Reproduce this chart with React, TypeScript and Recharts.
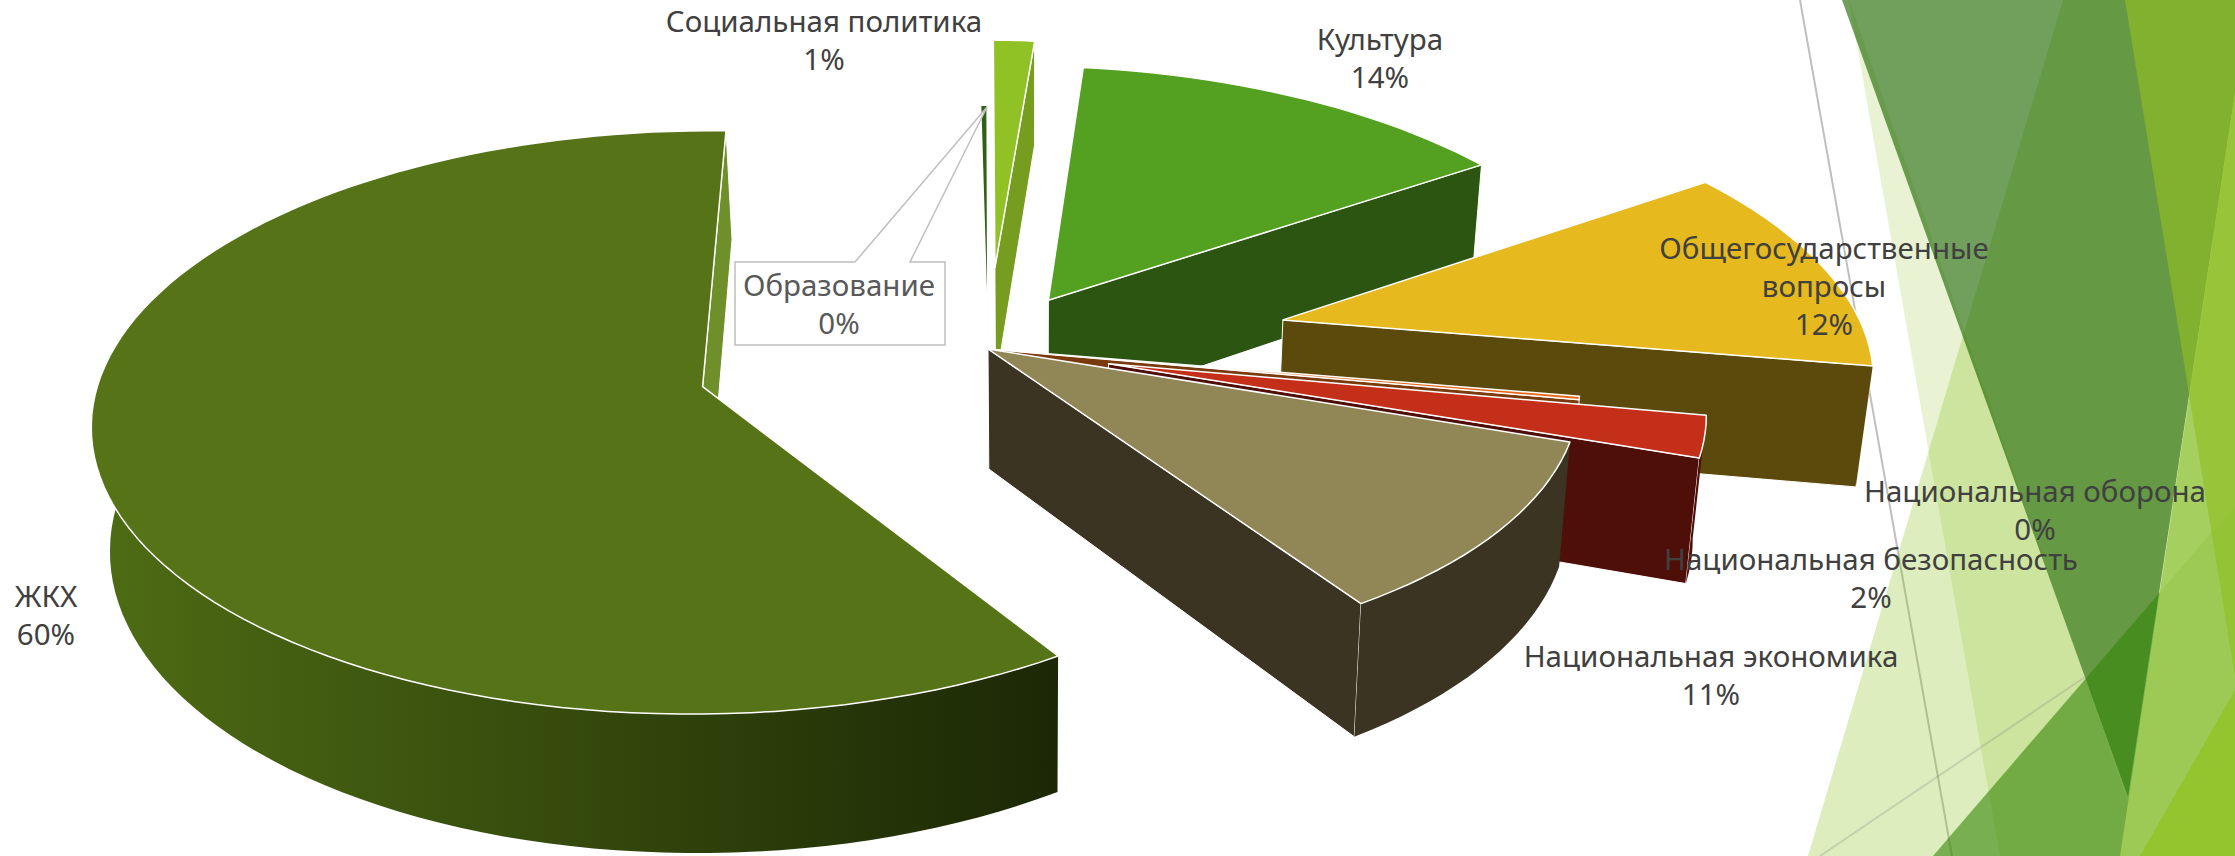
import { Pie, PieChart } from "recharts";

const categories = [
  "Образование",
  "Социальная политика",
  "Культура",
  "Общегосударственные вопросы",
  "Национальная оборона",
  "Национальная безопасность",
  "Национальная экономика",
  "ЖКХ",
];
const shares = [0.2, 1.3, 13.8, 12, 0.2, 2.4, 10.58, 59.52];
const topColors = ["#2f6014", "#90c226", "#54a021", "#e6b91e", "#e76618", "#c42f1a", "#918655", "#567318"];
const wallColors = ["#1c3a0b", "#769d1f", "#2c5512", "#5c4a0c", "#7a3a0c", "#4f0f09", "#3b3423", "url(#wallShade)"];
const explodeBy = [0, 0.31, 0.215, 0.527, 0, 0.21, 0, 0.505];
const radiusBy = [1, 1, 1, 1, 1, 1, 1, 1.02];

const labelLines = [
  ["Образование"],
  ["Социальная политика"],
  ["Культура"],
  ["Общегосударственные", "вопросы"],
  ["Национальная оборона"],
  ["Национальная безопасность"],
  ["Национальная экономика"],
  ["ЖКХ"],
];
const labelAt = [
  [839, 286],
  [824, 22],
  [1380, 40],
  [1824, 249],
  [2035, 492],
  [1871, 560],
  [1711, 657],
  [46, 597],
];

const data = categories.map((name, i) => ({ name, value: shares[i], fill: topColors[i] }));

// view of the tilted disc
const TILT = 0.467;
const PERSP = 0.118;
const THICK = 120;
const VANISH = 200;
const NARROW = 0.02;
const NARROW_X = 1026;

function Slice3D(props: any) {
  const { cx, cy, outerRadius: R, startAngle, endAngle, fill, name } = props;
  const idx = categories.indexOf(name);
  const d = explodeBy[idx];
  const rim = radiusBy[idx];
  const a1 = 90 - startAngle;
  const a2 = 90 - endAngle;
  const rad = (a: number) => (a * Math.PI) / 180;
  const mid = rad((a1 + a2) / 2);

  const top = (r: number, a: number) => {
    const X = d * Math.sin(mid) + r * Math.sin(rad(a));
    const Y = -d * Math.cos(mid) - r * Math.cos(rad(a));
    const f = 1 / (1 - PERSP * Y);
    return [cx - VANISH + (X * R + VANISH) * f, cy + Y * R * TILT * f, f];
  };
  const low = (r: number, a: number) => {
    const [x, y, f] = top(r, a);
    return [x - (x - NARROW_X) * NARROW, y + THICK * f];
  };
  const path = (pts: number[][]) => "M" + pts.map((p) => `${p[0].toFixed(1)},${p[1].toFixed(1)}`).join("L") + "Z";

  const steps = Math.max(2, Math.ceil((a2 - a1) / 2));
  const angles = Array.from({ length: steps + 1 }, (_, i) => a1 + ((a2 - a1) * i) / steps);
  const rimTop = angles.map((a) => top(rim, a));
  // only the part of the outer wall that faces the viewer
  const front = angles.filter((a) => Math.cos(rad(a)) < 0.02);
  const frontTop = front.map((a) => top(rim, a));
  const frontLow = front.map((a) => low(rim, a));

  const wall = wallColors[idx];
  const flat = wall.startsWith("url") ? "#6f8f2a" : wall;
  const edge = { stroke: "#fff", strokeWidth: 1, strokeLinejoin: "round" as const };

  return (
    <g>
      {Math.sin(rad(a1)) < 0 && (
        <path d={path([top(0, a1), top(rim, a1), low(rim, a1), low(0, a1)])} fill={flat} {...edge} />
      )}
      {Math.sin(rad(a2)) > 0 && (
        <path d={path([top(0, a2), top(rim, a2), low(rim, a2), low(0, a2)])} fill={flat} {...edge} />
      )}
      {front.length > 1 && <path d={path([...frontTop, ...frontLow.slice().reverse()])} fill={wall} stroke="none" />}
      <path d={path([top(0, a1), ...rimTop])} fill={fill} stroke="#fff" strokeWidth={1.5} strokeLinejoin="round" />
    </g>
  );
}

function SliceLabel(props: any) {
  const idx = props.index;
  const [x, y] = labelAt[idx];
  const lines = [...labelLines[idx], `${Math.round(props.percent * 100)}%`];
  const callout = idx === 0;
  return (
    <g>
      {callout && (
        <path d="M987,107L910,262L945,262L945,345L735,345L735,262L855,262Z" fill="#fff" stroke="#bfbfbf" strokeWidth={1.5} />
      )}
      <text
        x={x}
        y={y}
        textAnchor="middle"
        fontFamily="Noto Sans"
        fontSize={29.5}
        fill={callout ? "#595959" : "#404040"}
      >
        {lines.map((t, i) => (
          <tspan key={i} x={x} dy={i === 0 ? 10 : 38}>
            {t}
          </tspan>
        ))}
      </text>
    </g>
  );
}

function Backdrop() {
  return (
    <svg width={2235} height={856} style={{ position: "absolute", left: 0, top: 0 }}>
      <line x1={1800} y1={0} x2={1952} y2={856} stroke="#bfbfbf" strokeWidth={2} />
      <polygon points="1808,856 2063,0 2235,0 2235,856" fill="#90c226" fillOpacity={0.3} />
      <polygon points="1849,0 2147,856 2000,856" fill="#90c226" fillOpacity={0.2} />
      <polygon points="1842,0 2235,0 2235,93 2128,797" fill="#216900" fillOpacity={0.64} />
      <line x1={1820} y1={856} x2={2085} y2={677} stroke="#7f7f7f" strokeOpacity={0.25} strokeWidth={2} />
      <polygon points="1933,856 2235,505 2235,856" fill="#358507" fillOpacity={0.6} />
      <polygon points="2235,93 2120,856 2235,856" fill="#a0cc56" fillOpacity={0.92} />
      <polygon points="2125,0 2235,0 2235,677" fill="#91bf25" fillOpacity={0.65} />
      <polygon points="2140,856 2235,690 2235,856" fill="#94c52e" />
    </svg>
  );
}

export default function App() {
  return (
    <div style={{ position: "absolute", left: 0, top: 0, width: 2235, height: 856, overflow: "hidden", background: "#fff" }}>
      <Backdrop />
      <div style={{ position: "absolute", left: 0, top: 0 }}>
        <PieChart width={2235} height={856} margin={{ top: 0, right: 0, bottom: 0, left: 0 }}>
          <defs>
            <linearGradient id="wallShade" gradientUnits="userSpaceOnUse" x1="90" y1="0" x2="1050" y2="0">
              <stop offset="0%" stopColor="#4e6c14" />
              <stop offset="100%" stopColor="#1c2805" />
            </linearGradient>
          </defs>
          <Pie
            data={data}
            dataKey="value"
            nameKey="name"
            cx={988}
            cy={349}
            innerRadius={0}
            outerRadius={584}
            startAngle={88.5}
            endAngle={-271.5}
            stroke="none"
            shape={Slice3D}
            label={SliceLabel}
            labelLine={false}
            isAnimationActive={false}
          />
        </PieChart>
      </div>
    </div>
  );
}
